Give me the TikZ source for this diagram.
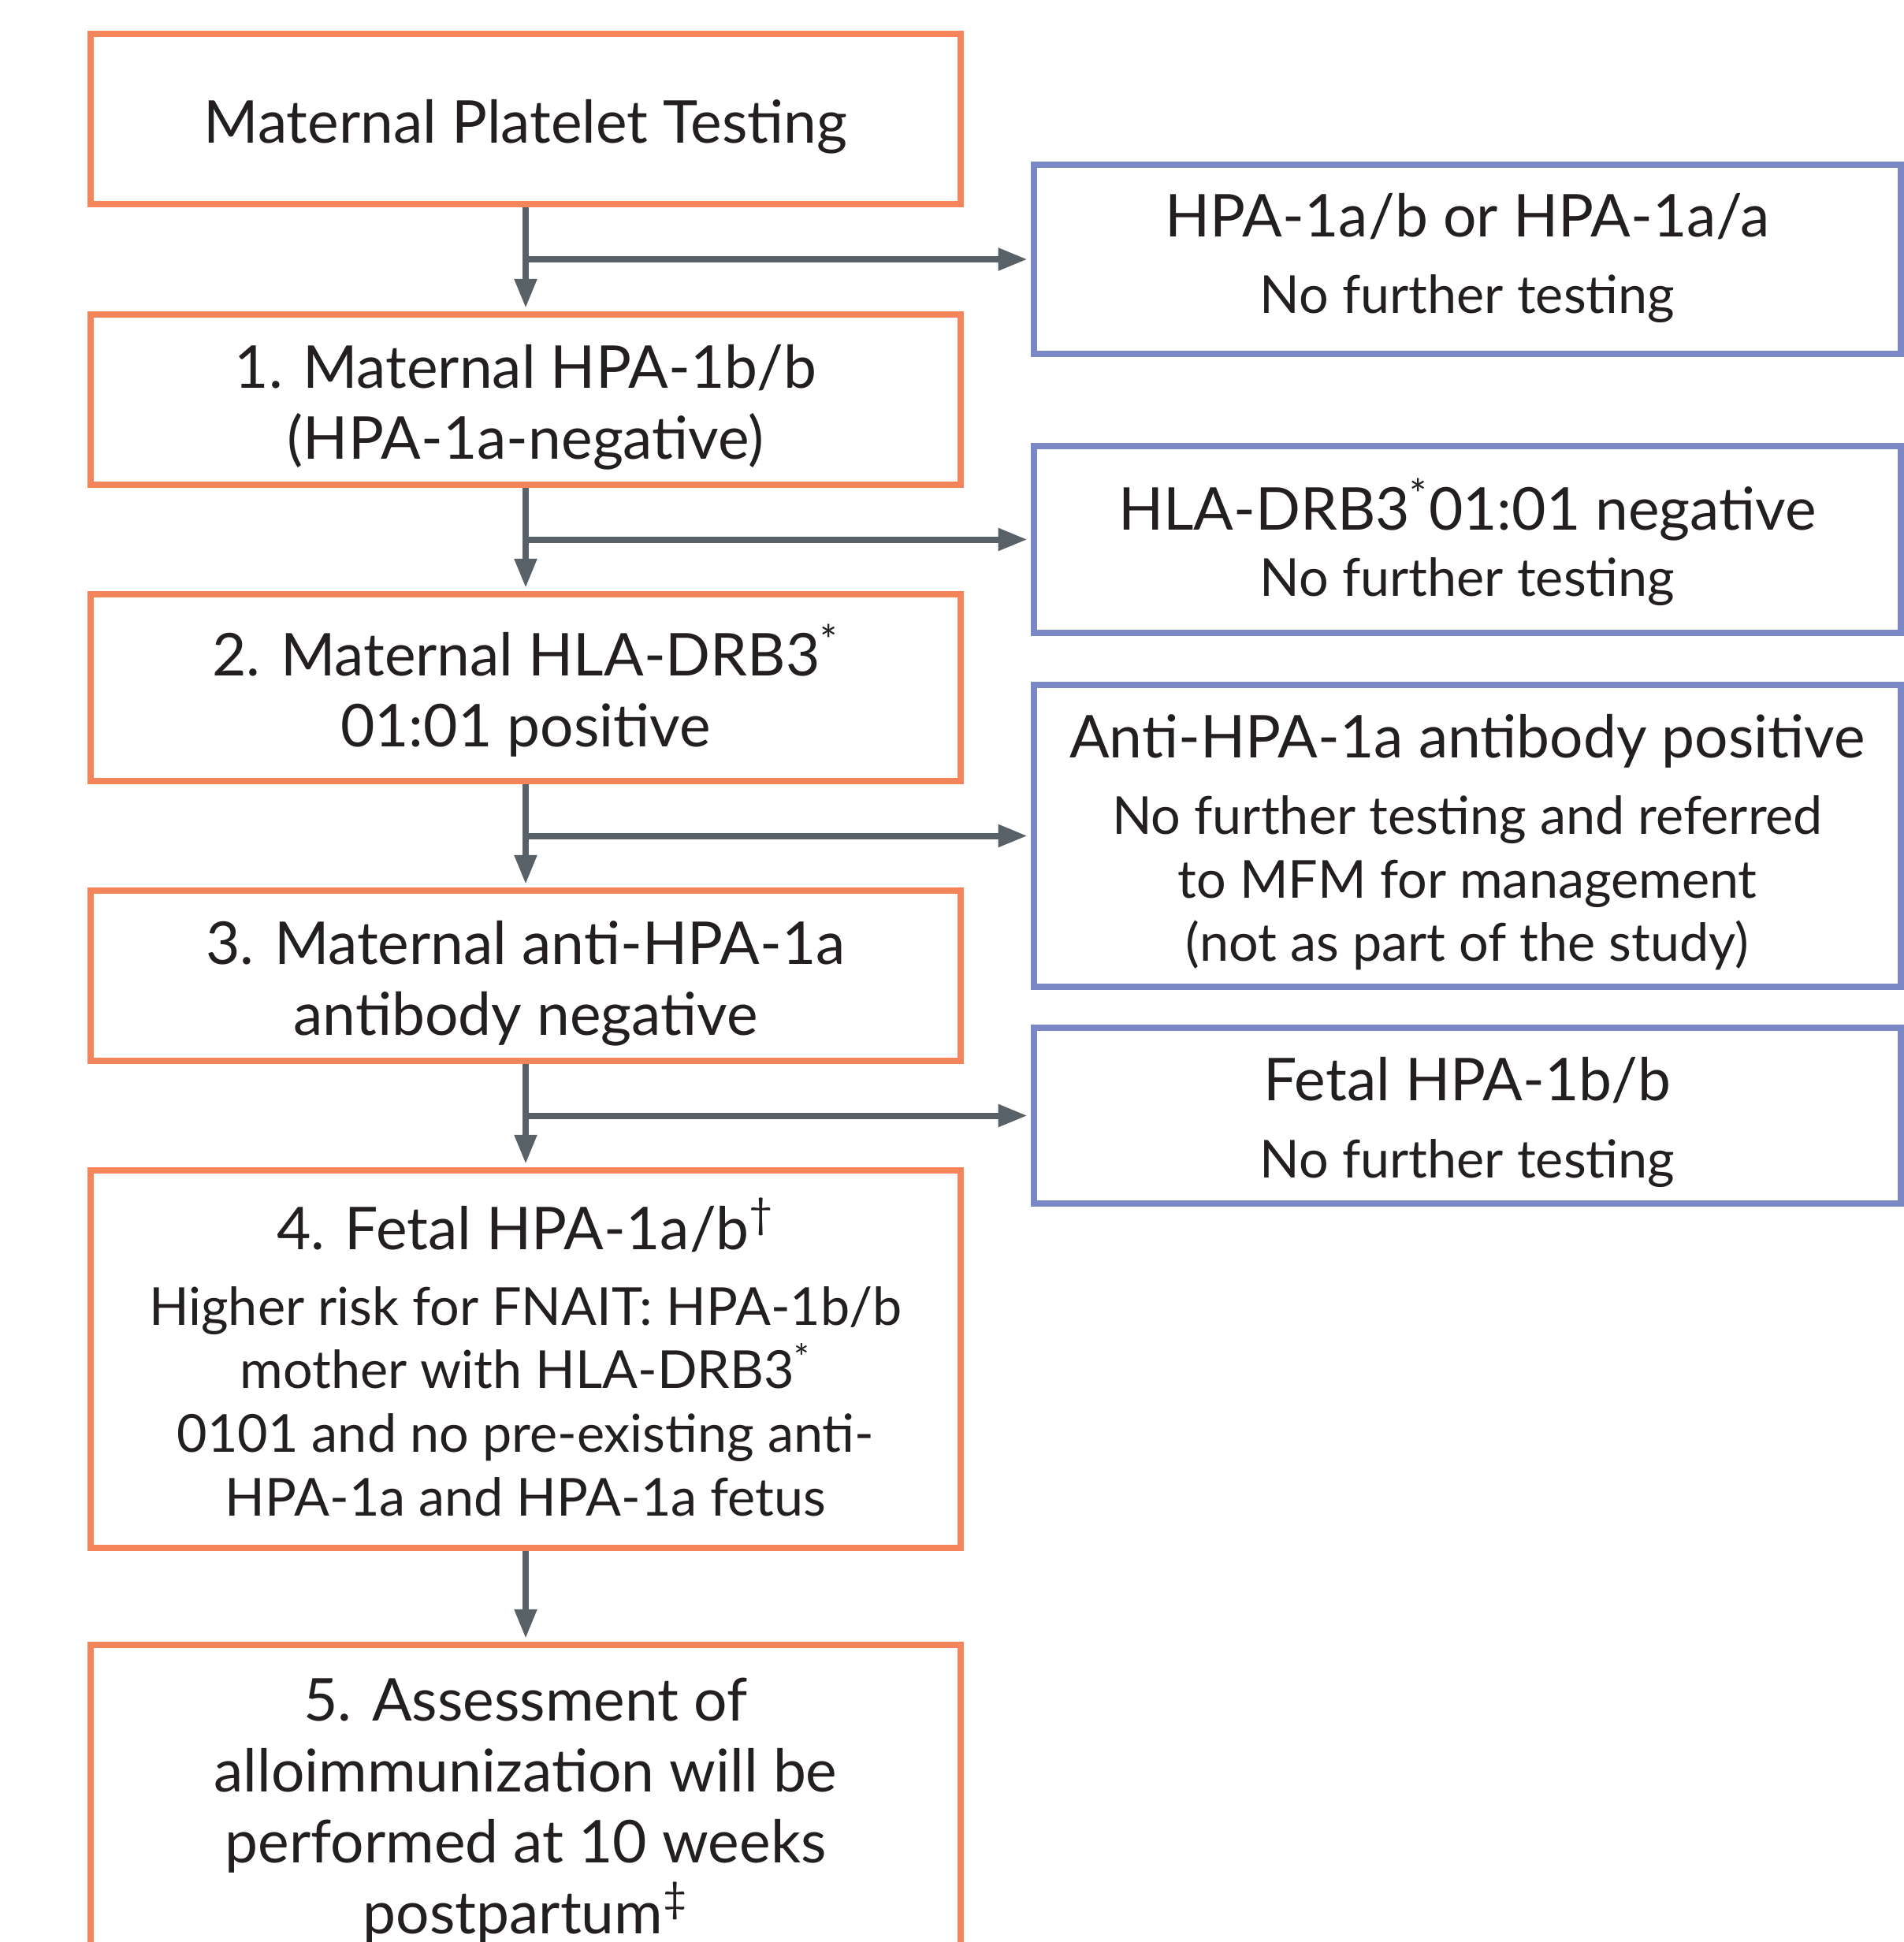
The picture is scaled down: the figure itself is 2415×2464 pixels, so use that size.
\documentclass[tikz,border=0pt]{standalone}
\usepackage{fontspec}
\setmainfont{Lato}
\usetikzlibrary{arrows.meta}

\definecolor{boxorange}{HTML}{F4845A}
\definecolor{boxblue}{HTML}{7A89C5}
\definecolor{arrowgray}{HTML}{586168}
\definecolor{textblack}{HTML}{231F20}

\newcommand{\titlesize}{\fontsize{21.3pt}{25.6pt}\selectfont}
\newcommand{\bodysize}{\fontsize{18.9pt}{23pt}\selectfont}
% invisible struts so every text block sits the same way in its box
\newcommand{\topgap}{\rule{0pt}{26pt}}
\newcommand{\botgap}{\rule[-8.9pt]{0pt}{0pt}}

\begin{document}
\begin{tikzpicture}[x=0.01cm, y=-0.01cm]
\tikzstyle{mainbox} = [rectangle, draw=boxorange, line width=0.8mm, minimum width=11.04cm, inner sep=0pt, align=center, text=textblack, font=\titlesize]
\tikzstyle{sidebox} = [rectangle, draw=boxblue, line width=0.8mm, minimum width=11cm, inner sep=0pt, align=center, text=textblack, font=\bodysize]
\tikzstyle{edge} = [draw=arrowgray, line width=0.8mm, -{Triangle[length=3.7mm, width=2.7mm]}, shorten >=0.4mm]

\useasboundingbox (0,0) rectangle (2415,2464);

\node[mainbox, minimum height=2.16cm] (m0) at (667,151) {\topgap Maternal Platelet Testing\botgap};
\node[mainbox, minimum height=2.16cm] (m1) at (667,507) {\topgap 1. Maternal HPA-1b/b\\(HPA-1a-negative)\botgap};
\node[mainbox, minimum height=2.37cm] (m2) at (667,872.5) {\topgap 2. Maternal HLA-DRB3\textsuperscript{*}\\01:01 positive\botgap};
\node[mainbox, minimum height=2.16cm] (m3) at (667,1238) {\topgap 3. Maternal anti-HPA-1a\\antibody negative\botgap};
\node[mainbox, font=\bodysize, minimum height=4.79cm] (m4) at (667,1724.5) {\topgap{\titlesize 4. Fetal HPA-1a/b\textsuperscript{†}}\\[4.2pt]Higher risk for FNAIT: HPA-1b/b\\mother with HLA-DRB3\textsuperscript{*}\\0101 and no pre-existing anti-\\HPA-1a and HPA-1a fetus\botgap};
\node[mainbox, minimum height=4.02cm] (m5) at (667,2288) {\topgap 5. Assessment of\\alloimmunization will be\\performed at 10 weeks\\postpartum\textsuperscript{‡}\botgap};

\node[sidebox, minimum height=2.37cm] (s1) at (1862,329) {\topgap{\titlesize HPA-1a/b or HPA-1a/a}\\[4.6pt]No further testing\rule[-14.6pt]{0pt}{0pt}};
\node[sidebox, minimum height=2.37cm] (s2) at (1862,684.5) {\topgap{\titlesize HLA-DRB3\textsuperscript{*}01:01 negative}\\[0.9pt]No further testing\botgap};
\node[sidebox, minimum height=3.83cm] (s3) at (1862,1060.5) {\topgap{\titlesize Anti-HPA-1a antibody positive}\\[4.6pt]No further testing and referred\\to MFM for management\\(not as part of the study)\botgap};
\node[sidebox, minimum height=2.23cm] (s4) at (1862,1415.5) {\topgap{\titlesize Fetal HPA-1b/b}\\[4.9pt]No further testing\botgap};

\draw[edge] (m0) -- (m1);
\draw[edge] (m1) -- (m2);
\draw[edge] (m2) -- (m3);
\draw[edge] (m3) -- (m4);
\draw[edge] (m4) -- (m5);

\draw[edge] (m0.south |- s1.west) -- (s1.west);
\draw[edge] (m1.south |- s2.west) -- (s2.west);
\draw[edge] (m2.south |- s3.west) -- (s3.west);
\draw[edge] (m3.south |- s4.west) -- (s4.west);
\end{tikzpicture}
\end{document}
